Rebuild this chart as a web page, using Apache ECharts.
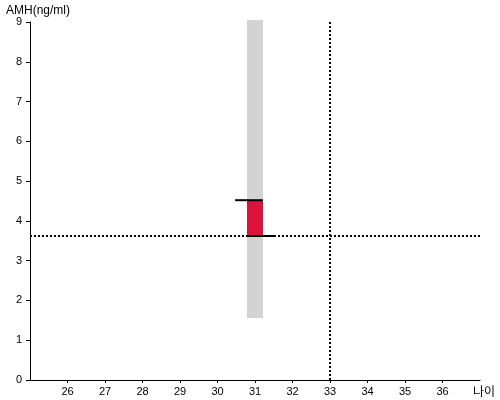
<!DOCTYPE html>
<html><head><meta charset="utf-8">
<script src="https://cdn.jsdelivr.net/npm/echarts@6/dist/echarts.min.js"></script>
<style>html,body{margin:0;padding:0;background:#fff}#c{width:500px;height:400px}</style>
</head><body><div id="c"></div>
<script>
const xTickLabels = [26, 27, 28, 29, 30, 31, 32, 33, 34, 35, 36];
const yTickLabels = [0, 1, 2, 3, 4, 5, 6, 7, 8, 9];
const rangeBand = [[31, 1.56, 9.05]];     // [age, low, high]
const amhBar = [[31, 3.62, 4.52]];        // [age, low, high]
const refLines = { age: 33, amh: 3.62 };
const topMarker = [[30.47, 31.21, 4.52]];  // [xFrom, xTo, y]
const bottomMarker = [[30.79, 31.53, 3.62]];
const halfWidth = 0.213;

const chart = echarts.init(document.getElementById('c'));
const font = 'Arial, "Liberation Sans", sans-serif';

function rectItem(color) {
  return function (params, api) {
    const x = api.value(0), lo = api.value(1), hi = api.value(2);
    const p1 = api.coord([x - halfWidth, hi]);
    const p2 = api.coord([x + halfWidth, lo]);
    return { type: 'rect', shape: { x: p1[0], y: p1[1], width: p2[0] - p1[0], height: p2[1] - p1[1] },
      style: { fill: color } };
  };
}
function lineItem(params, api) {
  const a = api.coord([api.value(0), api.value(2)]);
  const b = api.coord([api.value(1), api.value(2)]);
  return { type: 'line', shape: { x1: a[0], y1: a[1], x2: b[0], y2: b[1] },
    style: { stroke: '#000', lineWidth: 2 } };
}

chart.setOption({
  animation: false,
  grid: { left: 30, right: 20, top: 22, bottom: 20 },
  xAxis: {
    type: 'value', min: 25, max: 37, interval: 1,
    splitLine: { show: false },
    axisLine: { show: true, lineStyle: { color: '#000', width: 1 } },
    axisTick: { show: true, length: 3, lineStyle: { color: '#000' }, customValues: xTickLabels },
    axisLabel: { color: '#000', fontSize: 11, fontFamily: font, margin: 6, customValues: xTickLabels }
  },
  yAxis: {
    type: 'value', min: 0, max: 9, interval: 1,
    splitLine: { show: false },
    axisLine: { show: true, lineStyle: { color: '#000', width: 1 } },
    axisTick: { show: true, length: 4, lineStyle: { color: '#000' }, customValues: yTickLabels },
    axisLabel: { color: '#000', fontSize: 11, fontFamily: font, margin: 8, customValues: yTickLabels }
  },
  graphic: [
    { type: 'text', left: 6, top: 5, style: { text: 'AMH(ng/ml)', fontSize: 12, fontFamily: font, fill: '#000' } },
    { type: 'text', left: 473, top: 385, style: { text: '나이', fontSize: 12, fontFamily: '"Noto Sans CJK KR", sans-serif', fill: '#000' } }
  ],
  series: [
    { type: 'custom', renderItem: rectItem('#d3d3d3'), data: rangeBand, z: 1, clip: false },
    { type: 'custom', renderItem: rectItem('#dc143c'), data: amhBar, z: 2 },
    { type: 'custom', renderItem: lineItem, data: topMarker, z: 3 },
    { type: 'custom', renderItem: lineItem, data: bottomMarker, z: 3,
      markLine: {
        silent: true, symbol: 'none', label: { show: false },
        lineStyle: { color: '#000', width: 2, type: [2, 2] },
        data: [{ yAxis: refLines.amh }, { xAxis: refLines.age }]
      }
    }
  ]
});
</script></body></html>
